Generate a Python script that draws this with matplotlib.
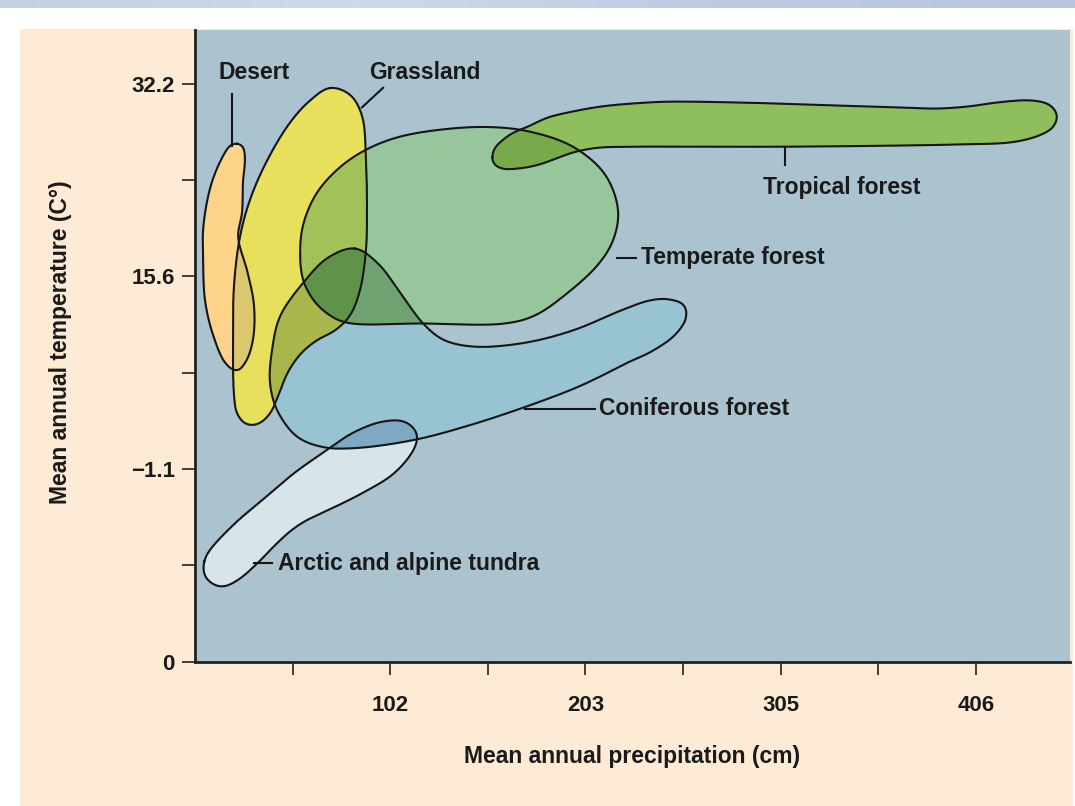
import numpy as np
import matplotlib.pyplot as plt
from matplotlib.path import Path
from matplotlib.patches import Rectangle
from matplotlib.colors import to_rgba, LinearSegmentedColormap

# biome outlines: precipitation (cm), temperature (deg C)
desert_x = [21.9, 25.0, 26.0, 25.0, 24.5, 22.4, 27.1, 30.7, 30.2, 26.5, 21.9, 16.1, 9.4, 5.2, 4.2, 4.2, 6.8,
            10.4, 15.6, 18.2]
desert_y = [27.1, 26.8, 25.6, 23.9, 21.1, 19.0, 16.1, 13.1, 10.1, 8.2, 7.4, 8.0, 10.5, 13.5, 17.3, 19.6, 22.5,
            24.5, 26.3, 26.9]

grass_x = [70.3, 80.7, 86.9, 89.0, 89.5, 89.0, 85.9, 80.7, 72.9, 64.0, 55.7, 48.4, 43.2, 39.0, 32.8, 26.5,
           21.9, 20.3, 19.8, 20.3, 23.4, 28.6, 37.5, 49.5, 59.9]
grass_y = [31.9, 31.3, 29.5, 25.6, 21.3, 17.9, 14.4, 12.2, 10.9, 10.1, 9.0, 7.3, 5.2, 3.7, 2.8, 2.8,
           3.7, 5.3, 10.1, 14.8, 19.0, 22.2, 25.6, 28.9, 30.8]

temperate_x = [54.7, 56.2, 63.0, 73.9, 87.4, 105.1, 129.1, 153.5, 174.4, 196.7, 213.4, 220.2, 217.6, 209.8,
               193.6, 177.0, 161.4, 118.7, 78.1, 67.7, 60.9, 56.2]
temperate_y = [17.4, 20.0, 22.7, 24.8, 26.4, 27.6, 28.3, 28.5, 28.1, 26.8, 24.4, 21.3, 18.7, 16.6,
               14.1, 12.2, 11.5, 11.5, 11.6, 12.5, 13.7, 15.3]

conifer_x = [83.3, 95.2, 108.3, 118.7, 129.1, 144.7, 170.7, 196.7, 222.8, 236.8, 246.2, 254.5, 255.6, 249.8,
             236.8, 227.5, 210.8, 197.8, 172.3, 143.1, 113.5, 82.2, 66.6, 53.1, 42.7, 39.0, 40.1, 44.2, 56.2, 69.2]
conifer_y = [18.0, 16.7, 13.8, 11.5, 10.1, 9.5, 9.8, 10.9, 12.7, 13.5, 13.6, 13.1, 12.0, 10.5,
             9.0, 8.3, 6.9, 5.9, 4.3, 2.7, 1.4, 0.7, 0.8, 1.7, 4.0, 6.4, 9.2, 12.1, 15.0, 17.2]

tundra_x = [4.7, 7.3, 20.8, 34.9, 52.0, 69.2, 81.7, 97.3, 109.3, 115.5, 114.5, 104.1, 86.9, 66.1, 57.3, 49.4,
            41.6, 32.8, 22.4, 14.1, 7.8, 4.7]
tundra_y = [-9.1, -8.2, -5.8, -3.8, -1.4, 0.6, 2.0, 3.0, 3.0, 2.0, 0.8, -1.4, -3.2, -4.9, -5.6, -6.5,
            -7.7, -9.2, -10.7, -11.3, -10.9, -10.2]

tropical_x = [154.6, 156.1, 160.3, 165.5, 172.8, 183.2, 195.2, 212.4, 233.2, 247.2, 288.9, 326.9, 367.0, 386.2,
              403.4, 415.9, 435.7, 445.0, 448.7, 446.6, 439.8, 425.8, 398.2, 367.0, 307.1, 262.9, 230.1, 209.2,
              196.7, 188.4, 178.0, 167.6, 159.8, 155.6]
tropical_y = [25.9, 26.7, 27.4, 28.0, 28.5, 29.3, 29.8, 30.3, 30.6, 30.7, 30.6, 30.4, 30.2, 30.1,
              30.3, 30.6, 30.8, 30.4, 29.5, 28.5, 27.8, 27.2, 27.0, 26.9, 26.8, 26.8, 26.8, 26.7,
              26.3, 25.8, 25.2, 24.9, 24.9, 25.3]

precip_ticks = [50.8, 101.6, 152.4, 203.2, 254.0, 304.8, 355.6, 406.4]
precip_labels = ['', '102', '', '203', '', '305', '', '406']
temp_ticks = [-17.8, -9.4, -1.1, 7.2, 15.6, 23.9, 32.2]
temp_labels = ['0', '', '\u22121.1', '', '15.6', '', '32.2']

XLIM = (0, 455.4)
YLIM = (-17.8, 36.9)

SC = np.array([1.0, 6.0])  # cm vs deg C on the page


def closed_curve(xs, ys, n=20):
    # centripetal catmull-rom through the points, closed
    p = np.column_stack([xs, ys]).astype(float)
    m = len(p)
    out = []
    for i in range(m):
        P0, P1, P2, P3 = p[i - 1], p[i], p[(i + 1) % m], p[(i + 2) % m]
        t0 = 0.0
        t1 = t0 + np.linalg.norm((P1 - P0) * SC) ** 0.5
        t2 = t1 + np.linalg.norm((P2 - P1) * SC) ** 0.5
        t3 = t2 + np.linalg.norm((P3 - P2) * SC) ** 0.5
        t = np.linspace(t1, t2, n, endpoint=False)[:, None]
        A1 = (t1 - t) / (t1 - t0) * P0 + (t - t0) / (t1 - t0) * P1
        A2 = (t2 - t) / (t2 - t1) * P1 + (t - t1) / (t2 - t1) * P2
        A3 = (t3 - t) / (t3 - t2) * P2 + (t - t2) / (t3 - t2) * P3
        B1 = (t2 - t) / (t2 - t0) * A1 + (t - t0) / (t2 - t0) * A2
        B2 = (t3 - t) / (t3 - t1) * A2 + (t - t1) / (t3 - t1) * A3
        out.append((t2 - t) / (t2 - t1) * B1 + (t - t1) / (t2 - t1) * B2)
    c = np.vstack(out)
    return np.vstack([c, c[:1]])


def smooth_closed(xs, ys, sigma=3.0):
    # resample evenly along the page, then soften the small kinks
    c = closed_curve(xs, ys)
    q = c * SC
    s = np.concatenate([[0], np.cumsum(np.hypot(*np.diff(q, axis=0).T))])
    n = int(s[-1] / 0.52)
    u = np.linspace(0, s[-1], n, endpoint=False)
    rx = np.interp(u, s, c[:, 0])
    ry = np.interp(u, s, c[:, 1])
    k = np.arange(-int(4 * sigma), int(4 * sigma) + 1)
    w = np.exp(-0.5 * (k / sigma) ** 2)
    w /= w.sum()
    h = len(k) // 2
    rx = np.convolve(np.concatenate([rx[-h:], rx, rx[:h]]), w, mode='valid')
    ry = np.convolve(np.concatenate([ry[-h:], ry, ry[:h]]), w, mode='valid')
    out = np.column_stack([rx, ry])
    return np.vstack([out, out[:1]])


curves = {
    'desert': smooth_closed(desert_x, desert_y),
    'grass': smooth_closed(grass_x, grass_y),
    'temperate': smooth_closed(temperate_x, temperate_y),
    'conifer': smooth_closed(conifer_x, conifer_y),
    'tundra': smooth_closed(tundra_x, tundra_y, sigma=4.0),
    'tropical': smooth_closed(tropical_x, tropical_y),
}

# raster of the regions (2x the axes pixels)
nx, ny = 1750, 1264
gx = np.linspace(XLIM[0], XLIM[1], nx)
gy = np.linspace(YLIM[0], YLIM[1], ny)
GX, GY = np.meshgrid(gx, gy)
pts = np.column_stack([GX.ravel(), GY.ravel()])


def mask(c):
    path = Path(c)
    bb = path.get_extents()
    sel = (pts[:, 0] >= bb.x0) & (pts[:, 0] <= bb.x1) & (pts[:, 1] >= bb.y0) & (pts[:, 1] <= bb.y1)
    m = np.zeros(len(pts), bool)
    m[sel] = path.contains_points(pts[sel])
    return m.reshape(GX.shape)


M = {k: mask(c) for k, c in curves.items()}
img = np.zeros((ny, nx, 4))


def paint(m, col):
    img[m] = to_rgba(col)


paint(M['tundra'], '#D8E4EA')
paint(M['conifer'], '#97C3D4')
paint(M['temperate'], '#97C69C')
paint(M['grass'], '#E9E05C')
paint(M['desert'], '#FDD48A')
paint(M['tropical'], '#8FBF5C')
paint(M['desert'] & M['grass'], '#DBC86E')
paint(M['grass'] & M['temperate'], '#A2C25A')
paint(M['grass'] & M['conifer'], '#A9B64B')
paint(M['temperate'] & M['conifer'], '#6FA572')
paint(M['grass'] & M['temperate'] & M['conifer'], '#5E9349')
paint(M['tropical'] & M['temperate'], '#78AA4B')
paint(M['conifer'] & M['tundra'], '#7FA8C3')

fig = plt.figure(figsize=(10.75, 8.06), dpi=100)
fig.patch.set_facecolor('white')
fig.add_artist(Rectangle((20 / 1075, 0), (1072 - 20) / 1075, (806 - 29) / 806,
                         transform=fig.transFigure, color='#FEEBD6', zorder=-10))

strip = fig.add_axes([0, 1 - 8 / 806, 1, 8 / 806])
cm = LinearSegmentedColormap.from_list('strip', ['#C2D0E3', '#CCDAE8', '#BCCBE2', '#B7C5E0'])
strip.imshow(np.linspace(0, 1, 256)[None, :], cmap=cm, aspect='auto')
strip.axis('off')

ax = fig.add_axes([195 / 1075, 1 - 662 / 806, 875 / 1075, 632 / 806])
ax.set_facecolor('#ABC3CF')
ax.imshow(img, extent=(XLIM[0], XLIM[1], YLIM[0], YLIM[1]), origin='lower', aspect='auto',
          interpolation='antialiased', zorder=1)
for c in curves.values():
    ax.plot(c[:, 0], c[:, 1], color='#161616', lw=1.5, zorder=3, solid_joinstyle='round')

ax.set_xlim(*XLIM)
ax.set_ylim(*YLIM)

font = dict(family='Liberation Sans', fontweight='bold', fontsize=16.5, color='#1a1a1a')

# leader lines and labels
lk = dict(color='#161616', lw=1.5, zorder=3)
ax.plot([19.3, 19.3], [31.4, 26.9], **lk)
ax.text(30.7, 33.2, 'Desert', ha='center', va='center', **font)
ax.plot([86.9, 97.9], [30.2, 31.9], **lk)
ax.text(119.7, 33.2, 'Grassland', ha='center', va='center', **font)
ax.plot([219.6, 229.5], [17.2, 17.2], **lk)
ax.text(232.1, 17.2, 'Temperate forest', ha='left', va='center', **font)
ax.plot([171.8, 208.2], [4.1, 4.1], **lk)
ax.text(210.3, 4.1, 'Coniferous forest', ha='left', va='center', **font)
ax.plot([30.7, 40.1], [-9.2, -9.2], **lk)
ax.text(43.2, -9.3, 'Arctic and alpine tundra', ha='left', va='center', **font)
ax.plot([307.1, 307.1], [26.8, 25.2], **lk)
ax.text(295.6, 23.3, 'Tropical forest', ha='left', va='center', **font)

ax.set_xticks(precip_ticks)
ax.set_xticklabels(precip_labels)
ax.set_yticks(temp_ticks)
ax.set_yticklabels(temp_labels)
ax.tick_params(length=9.5, width=1.3, color='#333333')
ax.tick_params(axis='x', pad=14)
ax.tick_params(axis='y', pad=5)
for lab in ax.get_xticklabels() + ax.get_yticklabels():
    lab.set_fontfamily('Liberation Sans')
    lab.set_fontweight('bold')
    lab.set_fontsize(16)
    lab.set_color('#1a1a1a')

for s in ['top', 'right']:
    ax.spines[s].set_visible(False)
for s in ['left', 'bottom']:
    ax.spines[s].set_linewidth(2)
    ax.spines[s].set_color('#222222')
    ax.spines[s].set_zorder(4)

ax.set_xlabel('Mean annual precipitation (cm)', **font)
ax.set_ylabel('Mean annual temperature (C\u00b0)', **font)
ax.xaxis.set_label_coords(0.5, -0.150)
ax.yaxis.set_label_coords(-0.154, 0.506)
ax.xaxis.label.set_verticalalignment('center')
ax.yaxis.label.set_verticalalignment('center')

fig.savefig('out.png', dpi=100)
